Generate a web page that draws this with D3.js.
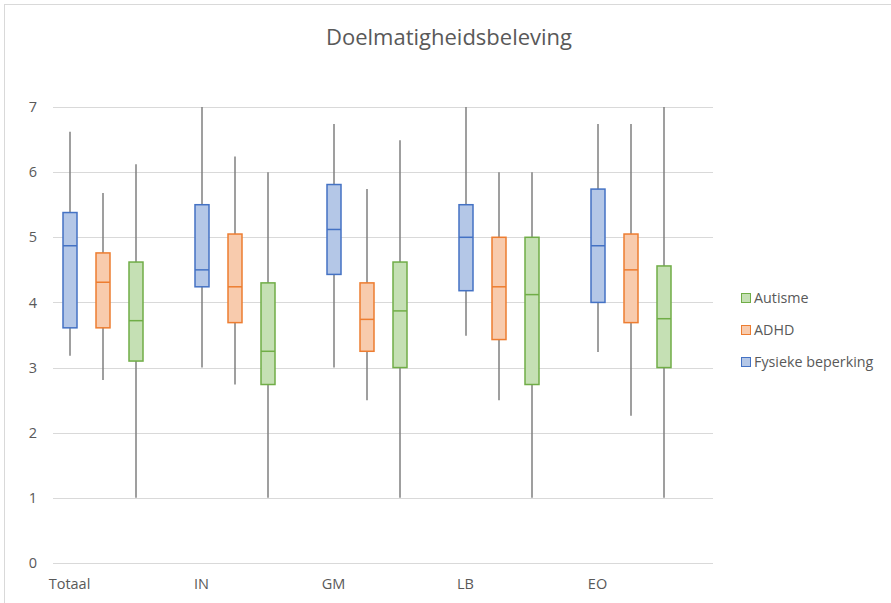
<!DOCTYPE html>
<html>
<head>
<meta charset="utf-8">
<script src="https://cdn.jsdelivr.net/npm/d3@7"></script>
<style>
  html, body { margin: 0; padding: 0; background: #fff; }
  svg { display: block; }
  text { font-family: "Open Sans", "Noto Sans", sans-serif; fill: #595959; }
</style>
</head>
<body>
<svg id="chart" width="891" height="603"></svg>
<script>
// Categories and series
const categories = ["Totaal", "IN", "GM", "LB", "EO"];
const seriesNames = ["Fysieke beperking", "ADHD", "Autisme"];
const legendOrder = ["Autisme", "ADHD", "Fysieke beperking"];
const yTicks = [0, 1, 2, 3, 4, 5, 6, 7];

// Five-number summaries per series, one entry per category: [min, q1, median, q3, max]
const fysiekeBeperking = [
  [3.18, 3.61, 4.87, 5.38, 6.62],
  [3.00, 4.24, 4.50, 5.50, 7.00],
  [3.00, 4.43, 5.12, 5.81, 6.74],
  [3.49, 4.18, 5.00, 5.50, 7.00],
  [3.24, 4.00, 4.87, 5.74, 6.74]
];
const adhd = [
  [2.81, 3.61, 4.31, 4.76, 5.68],
  [2.74, 3.69, 4.24, 5.05, 6.24],
  [2.50, 3.25, 3.74, 4.30, 5.74],
  [2.50, 3.43, 4.24, 5.00, 6.00],
  [2.26, 3.69, 4.50, 5.05, 6.74]
];
const autisme = [
  [1.00, 3.10, 3.72, 4.62, 6.12],
  [1.00, 2.74, 3.25, 4.30, 6.00],
  [1.00, 3.00, 3.87, 4.62, 6.49],
  [1.00, 2.74, 4.12, 5.00, 6.00],
  [1.00, 3.00, 3.75, 4.56, 7.00]
];

const seriesData = {
  "Fysieke beperking": fysiekeBeperking,
  "ADHD": adhd,
  "Autisme": autisme
};
const strokeColors = { "Fysieke beperking": "#4472c4", "ADHD": "#ed7d31", "Autisme": "#70ad47" };
const fillColors = { "Fysieke beperking": "#b4c7e7", "ADHD": "#f8cbad", "Autisme": "#c5e0b4" };

const svg = d3.select("#chart");

// Outer chart frame
svg.append("rect")
  .attr("x", 4.5).attr("y", 4.5)
  .attr("width", 1000).attr("height", 1000)
  .attr("fill", "none").attr("stroke", "#d9d9d9").attr("stroke-width", 1);

// Title
svg.append("text")
  .attr("x", 449).attr("y", 45)
  .attr("text-anchor", "middle")
  .attr("font-size", 22)
  .text("Doelmatigheidsbeleving");

const plot = { left: 53, right: 713, top: 107, bottom: 563 };

const y = d3.scaleLinear().domain([0, 7]).range([plot.bottom, plot.top]);
const x = d3.scaleBand().domain(categories).range([plot.left, plot.right]).padding(0);
// Four slots per category; the three series fill the first three
const slot = d3.scaleBand().domain([...seriesNames, ""]).range([0, x.bandwidth()]).padding(0);

// Gridlines
svg.append("g")
  .selectAll("line")
  .data(yTicks)
  .join("line")
  .attr("x1", plot.left).attr("x2", plot.right)
  .attr("y1", d => Math.round(y(d)) + 0.5).attr("y2", d => Math.round(y(d)) + 0.5)
  .attr("stroke", "#d9d9d9").attr("stroke-width", 1);

// Y axis labels
const yAxis = d3.axisLeft(y).tickValues(yTicks).tickFormat(d3.format("d")).tickSize(0).tickPadding(0);
const yg = svg.append("g").attr("transform", `translate(37,0)`).call(yAxis);
yg.select(".domain").remove();
yg.selectAll("text").attr("font-size", 14.5).attr("fill", "#595959")
  .style("font-family", '"Open Sans", sans-serif');

// X axis labels, centred under the first box of each category
const xAxis = d3.axisBottom(x).tickSize(0).tickPadding(0);
const xg = svg.append("g").attr("transform", `translate(0,${plot.bottom + 13})`).call(xAxis);
xg.select(".domain").remove();
xg.selectAll(".tick").attr("transform", d => `translate(${x(d) + slot(seriesNames[0]) + slot.bandwidth() / 2},0)`);
xg.selectAll("text").attr("font-size", 14.5).attr("fill", "#595959").attr("dy", "0.9em")
  .style("font-family", '"Open Sans", sans-serif');

// Box plots
const boxW = 14;
seriesNames.forEach(name => {
  const g = svg.append("g");
  const rows = seriesData[name].map((v, i) => ({ cat: categories[i], v }));
  const cx = d => Math.round(x(d.cat) + slot(name) + slot.bandwidth() / 2);

  // whiskers
  g.selectAll("line.whisker")
    .data(rows)
    .join("line")
    .attr("class", "whisker")
    .attr("x1", d => cx(d)).attr("x2", d => cx(d))
    .attr("y1", d => y(d.v[0])).attr("y2", d => y(d.v[4]))
    .attr("stroke", "#7f7f7f").attr("stroke-width", 1.5);

  // boxes
  g.selectAll("rect.box")
    .data(rows)
    .join("rect")
    .attr("class", "box")
    .attr("x", d => cx(d) - boxW / 2)
    .attr("y", d => y(d.v[3]))
    .attr("width", boxW)
    .attr("height", d => y(d.v[1]) - y(d.v[3]))
    .attr("fill", fillColors[name])
    .attr("stroke", strokeColors[name]).attr("stroke-width", 1.5);

  // medians
  g.selectAll("line.median")
    .data(rows)
    .join("line")
    .attr("class", "median")
    .attr("x1", d => cx(d) - boxW / 2).attr("x2", d => cx(d) + boxW / 2)
    .attr("y1", d => y(d.v[2])).attr("y2", d => y(d.v[2]))
    .attr("stroke", strokeColors[name]).attr("stroke-width", 1.5);
});

// Legend
const legend = svg.append("g").attr("transform", "translate(741,298)");
const li = legend.selectAll("g")
  .data(legendOrder)
  .join("g")
  .attr("transform", (d, i) => `translate(0,${i * 32})`);
li.append("rect")
  .attr("x", 0.5).attr("y", -4.5).attr("width", 9).attr("height", 9)
  .attr("fill", d => fillColors[d]).attr("stroke", d => strokeColors[d]).attr("stroke-width", 1);
li.append("text")
  .attr("x", 13).attr("y", 0).attr("dy", "0.35em")
  .attr("font-size", 14.3)
  .text(d => d);
</script>
</body>
</html>
